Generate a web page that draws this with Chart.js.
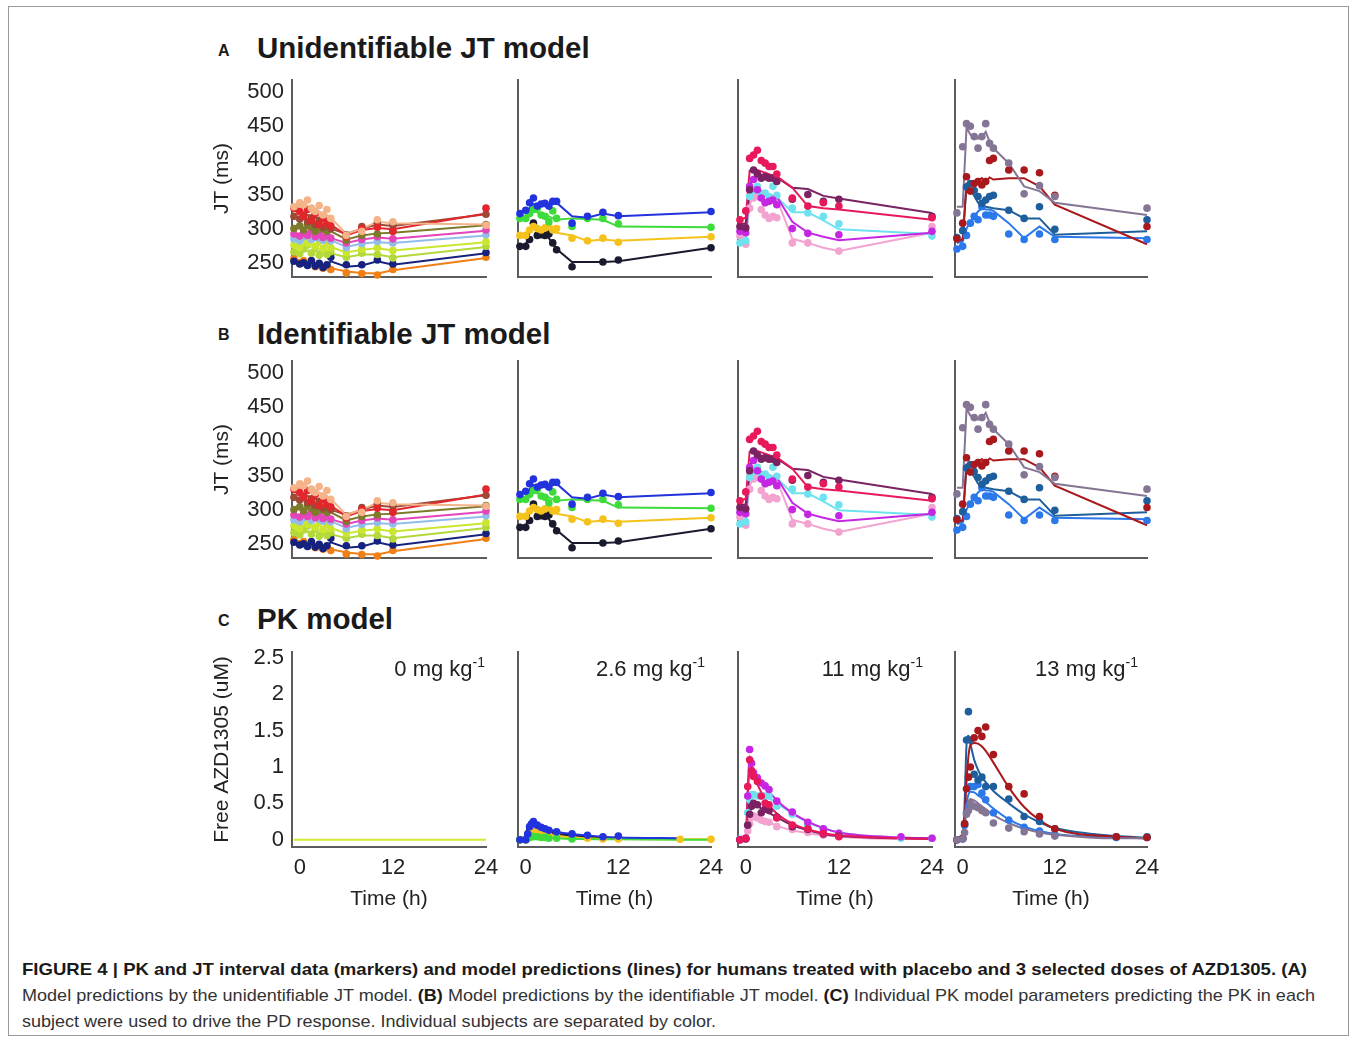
<!DOCTYPE html>
<html>
<head>
<meta charset="utf-8">
<script src="https://cdn.jsdelivr.net/npm/chart.js@4.4.1/dist/chart.umd.min.js"></script>
<style>
  html, body { margin: 0; padding: 0; background: #fff; }
  #fig { position: relative; width: 1357px; height: 1041px; overflow: hidden;
         font-family: "Liberation Sans", Arial, sans-serif; color: #1a1a1a; }
  #frame { position: absolute; left: 8px; top: 6px; width: 1341px; height: 1030px;
           border: 1px solid #9a9a9a; box-sizing: border-box; }
  canvas { position: absolute; }
  .abs { position: absolute; white-space: nowrap; line-height: 1; }
  .letter { font-size: 16px; font-weight: bold; }
  .title { font-size: 29.5px; font-weight: bold; }
  .dose { font-size: 22px; width: 200px; text-align: right; color: #222; }
  .dose span { font-size: 14px; position: relative; top: -9px; }
  .cap { font-family: "Liberation Sans Narrow", "Arial Narrow", "Liberation Sans", Arial, sans-serif;
         font-size: 17px; color: #333; transform-origin: 0 0; }
  .cap b { color: #1a1a1a; }
</style>
</head>
<body>
<div id="fig">
  <div id="frame"></div>

  <div class="abs letter" style="left:218px; top:43px">A</div>
  <div class="abs title" style="left:257px; top:33px">Unidentifiable JT model</div>
  <div class="abs letter" style="left:218px; top:327px">B</div>
  <div class="abs title" style="left:257px; top:319px">Identifiable JT model</div>
  <div class="abs letter" style="left:218px; top:613px">C</div>
  <div class="abs title" style="left:257px; top:604px">PK model</div>

  <div class="abs cap" data-w="1285" style="left:22px; top:961px"><b>FIGURE 4 | PK and JT interval data (markers) and model predictions (lines) for humans treated with placebo and 3 selected doses of AZD1305. (A)</b></div>
  <div class="abs cap" data-w="1293" style="left:22px; top:987px">Model predictions by the unidentifiable JT model. <b>(B)</b> Model predictions by the identifiable JT model. <b>(C)</b> Individual PK model parameters predicting the PK in each</div>
  <div class="abs cap" data-w="694" style="left:22px; top:1013px">subject were used to drive the PD response. Individual subjects are separated by color.</div>
</div>

<script>
// sampling times (h), predose plotted just left of 0
const JT_TIMES = [-0.75, 0, 0.5, 1, 1.5, 2, 2.5, 3, 3.5, 4, 6, 8, 10, 12, 24];
const PK_TIMES = [-0.75, 0, 0.25, 0.5, 0.75, 1, 1.5, 2, 2.5, 3, 4, 6, 8, 10, 12, 20, 24];

const JT_TICKS = [250, 300, 350, 400, 450, 500];
const PK_TICKS = [0, 0.5, 1, 1.5, 2, 2.5];
const TIME_TICKS = [0, 12, 24];
const DOSES = ["0", "2.6", "11", "13"];

// placebo, 0 mg/kg
const PLACEBO_COLORS = ["#f4b389", "#e3262c", "#9c4a36", "#7d7a2c", "#e445b9",
                        "#92bde9", "#cbe62f", "#b3d83a", "#16227e", "#f07f15"];
const PLACEBO_JT_OBS = [
  [332, 338, 335, 342, 330, 325, 334, 320, 328, 315, 290, 296, 313, 310, 305],
  [330, 325, 318, 328, 312, 322, 306, 315, 308, 304, 288, 300, 302, 296, 330],
  [318, 314, 320, 310, 316, 306, 312, 302, 305, 300, 291, 303, 308, 305, 321],
  [300, 304, 298, 306, 302, 296, 304, 299, 296, 300, 283, 290, 292, 296, 306],
  [292, 289, 294, 290, 296, 288, 292, 287, 290, 286, 279, 284, 288, 285, 298],
  [285, 282, 288, 292, 284, 290, 286, 283, 288, 282, 272, 278, 281, 279, 291],
  [276, 272, 284, 278, 290, 274, 282, 270, 278, 272, 265, 270, 272, 268, 281],
  [266, 263, 270, 276, 264, 272, 261, 268, 262, 266, 258, 264, 262, 257, 274],
  [252, 248, 250, 246, 253, 245, 249, 243, 247, 258, 247, 247, 254, 248, 265],
  [256, 250, 253, 247, 250, 244, 248, 242, 245, 240, 235, 234, 232, 240, 258]
];
const PLACEBO_JT_FIT = [
  [330, 332, 331, 330, 328, 326, 325, 322, 320, 316, 292, 300, 310, 308, 306],
  [326, 324, 322, 320, 318, 316, 314, 312, 310, 306, 290, 298, 301, 299, 322],
  [316, 315, 314, 313, 311, 309, 307, 305, 303, 300, 292, 300, 306, 304, 321],
  [302, 302, 301, 301, 300, 299, 299, 298, 297, 296, 284, 290, 293, 294, 305],
  [291, 291, 291, 290, 290, 289, 289, 288, 287, 286, 279, 284, 287, 285, 297],
  [285, 285, 286, 286, 286, 285, 285, 284, 284, 283, 273, 278, 280, 279, 290],
  [276, 276, 277, 277, 277, 276, 276, 275, 275, 273, 265, 269, 271, 268, 280],
  [266, 266, 267, 268, 267, 267, 266, 266, 265, 264, 258, 262, 262, 258, 273],
  [251, 250, 250, 249, 249, 248, 248, 247, 247, 252, 244, 246, 252, 247, 264],
  [255, 253, 252, 250, 249, 247, 246, 244, 243, 242, 237, 235, 234, 239, 257]
];
const PLACEBO_PK_FIT = [[0, 0, 0, 0, 0, 0, 0, 0, 0, 0, 0, 0, 0, 0, 0, 0, 0]];
const PLACEBO_PK_COLORS = ["#d6ea33"];

// 2.6 mg/kg
const LOW_COLORS = ["#2233dd", "#3ddc3a", "#f5c21c", "#1a1a2e"];
const LOW_JT_OBS = [
  [322, 327, 338, 345, 333, 336, 337, 333, 340, 340, 308, 318, 324, 319, 325],
  [315, 315, 322, 328, 330, 320, 318, 310, 326, 315, 303, 315, 315, 307, 302],
  [290, 290, 298, 303, 300, 298, 301, 303, 298, 300, 286, 282, 286, 280, 288],
  [274, 274, 284, 308, 290, 291, 290, 292, 279, 269, 244, null, 251, 254, 272]
];
const LOW_JT_FIT = [
  [320, 318, 330, 336, 334, 335, 334, 334, 336, 338, 318, 316, 322, 318, 324],
  [315, 313, 322, 325, 324, 322, 321, 318, 315, 313, 315, 314, 313, 303, 302],
  [289, 290, 298, 302, 300, 298, 297, 296, 295, 294, 290, 282, 284, 282, 288],
  [274, 275, 295, 305, 300, 296, 292, 286, 278, 270, 251, 251, 251, 252, 272]
];
const LOW_PK_OBS = [
  [0, 0, 0.08, 0.18, 0.22, 0.25, 0.2, 0.17, 0.15, 0.13, 0.11, 0.08, 0.06, 0.04, 0.05, null, null],
  [0, 0, 0.02, 0.03, 0.05, 0.04, 0.04, 0.03, 0.03, 0.02, 0.02, 0.01, null, null, null, null, null],
  [0, 0, 0.04, 0.09, 0.12, 0.12, 0.1, 0.09, 0.07, 0.06, 0.05, 0.03, 0.02, 0.01, 0.01, 0.005, 0.005],
  [0, 0, 0.05, 0.12, 0.16, 0.18, 0.15, 0.14, 0.12, 0.1, 0.09, 0.06, 0.04, 0.03, 0.03, null, null]
];
const LOW_PK_FIT = [
  [0, 0, 0.1, 0.17, 0.2, 0.2, 0.19, 0.17, 0.15, 0.14, 0.11, 0.08, 0.06, 0.04, 0.03, 0.02, null],
  [0, 0, 0.02, 0.04, 0.05, 0.05, 0.04, 0.04, 0.03, 0.03, 0.02, 0.01, 0.01, 0.005, 0.005, 0, 0],
  [0, 0, 0.05, 0.1, 0.11, 0.11, 0.1, 0.09, 0.08, 0.07, 0.05, 0.03, 0.02, 0.01, 0.01, 0.005, 0.005],
  [0, 0, 0.06, 0.12, 0.15, 0.16, 0.15, 0.13, 0.12, 0.1, 0.08, 0.06, 0.04, 0.03, 0.02, 0.01, null]
];

// 11 mg/kg
const MID_COLORS = ["#e8195a", "#7a2262", "#c526e3", "#6ee2ef", "#f2a3d0"];
const MID_JT_OBS = [
  [313, 326, 403, 408, 415, 400, 396, 391, 391, 380, 345, 333, 338, 333, 316],
  [303, 301, 357, 386, 380, 374, 376, 374, 374, 369, 343, 350, 340, 343, 318],
  [296, 294, 362, 372, 357, 345, 338, 340, 342, 335, 300, 293, null, 291, 296],
  [279, 282, 347, 356, 362, 350, 352, 347, 362, 349, 330, 323, 318, 307, 289],
  [289, 277, 330, 345, 347, 328, 320, 315, 318, 316, 279, 279, null, 267, 303]
];
const MID_JT_FIT = [
  [313, 316, 385, 386, 386, 384, 382, 380, 378, 377, 360, 333, 330, 328, 313],
  [306, 308, 365, 372, 378, 379, 379, 378, 377, 375, 360, 358, 348, 344, 323],
  [294, 292, 355, 360, 358, 355, 352, 350, 348, 347, 310, 294, 288, 283, 294],
  [282, 284, 350, 355, 352, 350, 349, 348, 347, 346, 324, 324, 312, 299, 292],
  [289, 286, 335, 348, 346, 340, 334, 340, 345, 344, 285, 279, 272, 267, 294]
];
const MID_PK_OBS = [
  [0, 0.02, 0.73, 1.1, 0.95, 0.87, 0.8, 0.6, 0.5, 0.48, 0.3, 0.2, 0.15, 0.09, 0.04, null, null],
  [0, 0.01, 0.2, 0.35, 0.46, 0.5, 0.48, 0.37, 0.42, 0.4, 0.31, 0.18, 0.14, 0.08, 0.05, null, null],
  [0, 0.02, 0.6, 1.24, 1.05, 0.92, 0.85, 0.78, 0.74, 0.69, 0.53, 0.38, 0.24, 0.15, 0.09, 0.04, 0.02],
  [0.01, 0.02, 0.37, 0.55, 0.62, 0.62, 0.6, 0.6, 0.6, 0.6, 0.46, 0.35, 0.2, 0.15, 0.09, 0.02, 0.02],
  [0, 0.01, 0.12, 0.22, 0.31, 0.33, 0.3, 0.27, 0.25, 0.24, 0.18, 0.14, 0.1, 0.06, null, null, null]
];
const MID_PK_FIT = [
  [0, 0, 0.6, 0.95, 0.9, 0.85, 0.76, 0.65, 0.56, 0.48, 0.36, 0.22, 0.14, 0.09, 0.06, 0.02, 0.01],
  [0, 0, 0.2, 0.36, 0.44, 0.47, 0.46, 0.43, 0.4, 0.37, 0.31, 0.2, 0.13, 0.08, 0.05, 0.02, 0.01],
  [0, 0, 0.7, 1.15, 1.0, 0.92, 0.84, 0.78, 0.72, 0.66, 0.54, 0.37, 0.25, 0.16, 0.1, 0.03, 0.02],
  [0.01, 0.01, 0.35, 0.55, 0.6, 0.62, 0.62, 0.61, 0.59, 0.57, 0.5, 0.36, 0.24, 0.16, 0.1, 0.03, 0.02],
  [0, 0, 0.12, 0.24, 0.3, 0.32, 0.31, 0.29, 0.26, 0.24, 0.19, 0.13, 0.09, 0.06, 0.04, 0.01, 0.01]
];

// 13 mg/kg
const HIGH_COLORS = ["#857595", "#a8181c", "#1f5e9c", "#2b78ea"];
const HIGH_JT_OBS = [
  [323, 420, 454, 450, 435, 418, 435, 454, 425, 418, 396, 351, 363, 347, 330],
  [285, 308, 376, 355, 366, 369, 364, 369, 400, 403, 386, 386, 382, 349, 303],
  [287, 297, 361, 366, 356, 347, 337, 342, 347, 349, 327, 315, 332, 299, 313],
  [270, 274, 290, 308, 318, 313, 332, 320, 320, 318, 292, 284, 292, 284, 284]
];
const HIGH_JT_FIT = [
  [332, 332, 448, 438, 434, 432, 434, 442, 428, 418, 396, 362, 355, 338, 320],
  [282, 284, 366, 368, 368, 370, 374, 368, 375, 372, 374, 374, 362, 335, 277],
  [282, 284, 364, 357, 348, 338, 333, 332, 331, 330, 327, 315, 315, 291, 296],
  [279, 281, 300, 310, 318, 325, 330, 328, 328, 326, 308, 286, 303, 288, 286]
];
const HIGH_PK_OBS = [
  [0, 0.01, 0.1, 0.35, 0.4, 0.5, 0.46, 0.44, 0.4, 0.37, 0.23, 0.16, 0.11, 0.08, 0.05, null, null],
  [0, 0.02, 0.22, 0.7, 0.86, 1.0, 1.4, 1.5, 1.42, 1.55, 1.17, 0.73, 0.63, 0.32, 0.15, 0.04, 0.03],
  [0, 0.02, 0.22, 1.37, 1.76, 1.37, 0.9, 0.82, 0.86, 0.73, 0.73, 0.56, 0.32, 0.25, 0.15, 0.04, 0.04],
  [0, 0.01, 0.2, 0.37, 0.46, 0.73, 0.73, 0.76, 0.64, 0.55, 0.37, 0.27, 0.17, 0.12, 0.07, 0.03, 0.03]
];
const HIGH_PK_FIT = [
  [0, 0, 0.15, 0.4, 0.52, 0.56, 0.54, 0.5, 0.46, 0.42, 0.34, 0.23, 0.15, 0.1, 0.07, 0.02, 0.02],
  [0, 0, 0.3, 0.8, 1.15, 1.3, 1.33, 1.32, 1.28, 1.22, 1.06, 0.72, 0.45, 0.27, 0.15, 0.04, 0.02],
  [0, 0, 0.5, 1.3, 1.43, 1.32, 1.1, 0.96, 0.86, 0.79, 0.67, 0.5, 0.35, 0.24, 0.16, 0.05, 0.03],
  [0, 0, 0.25, 0.5, 0.62, 0.66, 0.65, 0.61, 0.57, 0.52, 0.43, 0.28, 0.18, 0.12, 0.08, 0.03, 0.02]
];

// panel geometry (plot area in page pixels)
const COL_LEFT = [292, 518, 738, 955];
const COL_WIDTH = [194, 193, 194, 192];
const ROW_TOP = [80, 361, 652];
const ROW_HEIGHT = [197, 197, 195];
const DOSE_RIGHT = [485, 705, 923, 1138];

Chart.defaults.font.family = '"Liberation Sans", Arial, sans-serif';
Chart.defaults.color = "#222";

const fig = document.getElementById("fig");
const AXIS_COLOR = "#5c5c5c";

function toPoints(times, vals) {
  return times.map((t, i) => ({ x: t, y: vals[i] })).filter(p => p.y !== null);
}

function buildDatasets(times, colors, obs, fit, smooth) {
  const marks = [], lines = [];
  colors.forEach((c, i) => {
    if (obs) {
      marks.push({
        data: toPoints(times, obs[i]), showLine: false, clip: false,
        pointRadius: 3.8, pointHoverRadius: 3.8, pointBorderWidth: 0,
        pointBackgroundColor: c, borderColor: c
      });
    }
    lines.push({
      data: toPoints(times, fit[i]), clip: false, pointRadius: 0, borderWidth: 2,
      borderColor: c, cubicInterpolationMode: smooth ? "monotone" : "default", tension: 0
    });
  });
  return marks.concat(lines);
}

function makePanel(row, col, datasets, yMin, yMax, yTicks, yTitle) {
  const showY = col === 0, showX = row === 2;
  // generous padding so tick-label overflow never shrinks the plot area
  const yw = showY ? 82 : 8, padTop = 34, padRight = 28, xh = showX ? 65 : 34;
  const w = COL_WIDTH[col], h = ROW_HEIGHT[row];
  const W = yw + w + padRight, H = padTop + h + xh;
  const c = document.createElement("canvas");
  c.width = W; c.height = H;
  c.style.width = W + "px"; c.style.height = H + "px";
  c.style.left = (COL_LEFT[col] - yw) + "px";
  c.style.top = (ROW_TOP[row] - padTop) + "px";
  fig.appendChild(c);

  new Chart(c, {
    type: "line",
    data: { datasets },
    options: {
      responsive: false,
      animation: false,
      layout: { padding: { top: padTop, right: padRight, left: 0, bottom: 0 } },
      plugins: { legend: { display: false }, tooltip: { enabled: false } },
      scales: {
        x: {
          type: "linear", min: -1, max: 24,
          afterBuildTicks: s => { s.ticks = TIME_TICKS.map(v => ({ value: v })); },
          afterFit: s => { s.height = xh; },
          grid: { display: false, drawTicks: false },
          border: { display: true, color: AXIS_COLOR, width: 2 },
          ticks: { display: showX, padding: 8, font: { size: 22 }, color: "#222" },
          title: { display: showX, text: "Time (h)", padding: 0, font: { size: 21 }, color: "#222" }
        },
        y: {
          min: yMin, max: yMax,
          afterBuildTicks: s => { s.ticks = yTicks.map(v => ({ value: v })); },
          afterFit: s => { s.width = yw; },
          grid: { display: false, drawTicks: false },
          border: { display: true, color: AXIS_COLOR, width: 2 },
          ticks: { display: showY, padding: 8, font: { size: 22 }, color: "#222",
                   callback: v => String(v) },
          title: { display: showY, text: yTitle, padding: 0, font: { size: 21 }, color: "#222" }
        }
      }
    }
  });
}

const JT_GROUPS = [
  [PLACEBO_COLORS, PLACEBO_JT_OBS, PLACEBO_JT_FIT],
  [LOW_COLORS, LOW_JT_OBS, LOW_JT_FIT],
  [MID_COLORS, MID_JT_OBS, MID_JT_FIT],
  [HIGH_COLORS, HIGH_JT_OBS, HIGH_JT_FIT]
];
const PK_GROUPS = [
  [PLACEBO_PK_COLORS, null, PLACEBO_PK_FIT],
  [LOW_COLORS, LOW_PK_OBS, LOW_PK_FIT],
  [MID_COLORS, MID_PK_OBS, MID_PK_FIT],
  [HIGH_COLORS, HIGH_PK_OBS, HIGH_PK_FIT]
];

// rows A and B show the same observations
for (let row = 0; row < 2; row++) {
  JT_GROUPS.forEach((g, col) => {
    makePanel(row, col, buildDatasets(JT_TIMES, g[0], g[1], g[2], false), 229, 518, JT_TICKS, "JT (ms)");
  });
}
PK_GROUPS.forEach((g, col) => {
  makePanel(2, col, buildDatasets(PK_TIMES, g[0], g[1], g[2], true), -0.1, 2.58, PK_TICKS, "Free AZD1305 (uM)");
});

// dose labels
DOSES.forEach((d, col) => {
  const el = document.createElement("div");
  el.className = "abs dose";
  el.style.left = (DOSE_RIGHT[col] - 200) + "px";
  el.style.top = "658px";
  el.innerHTML = d + " mg kg<span>-1</span>";
  fig.appendChild(el);
});

// fit caption lines to the reference widths
function fitCaption() {
  document.querySelectorAll(".cap").forEach(el => {
    el.style.transform = "none";
    const w = el.getBoundingClientRect().width;
    const target = +el.dataset.w;
    if (w > 0) el.style.transform = "scaleX(" + (target / w) + ")";
  });
}
fitCaption();
if (document.fonts && document.fonts.ready) document.fonts.ready.then(fitCaption);
</script>
</body>
</html>
